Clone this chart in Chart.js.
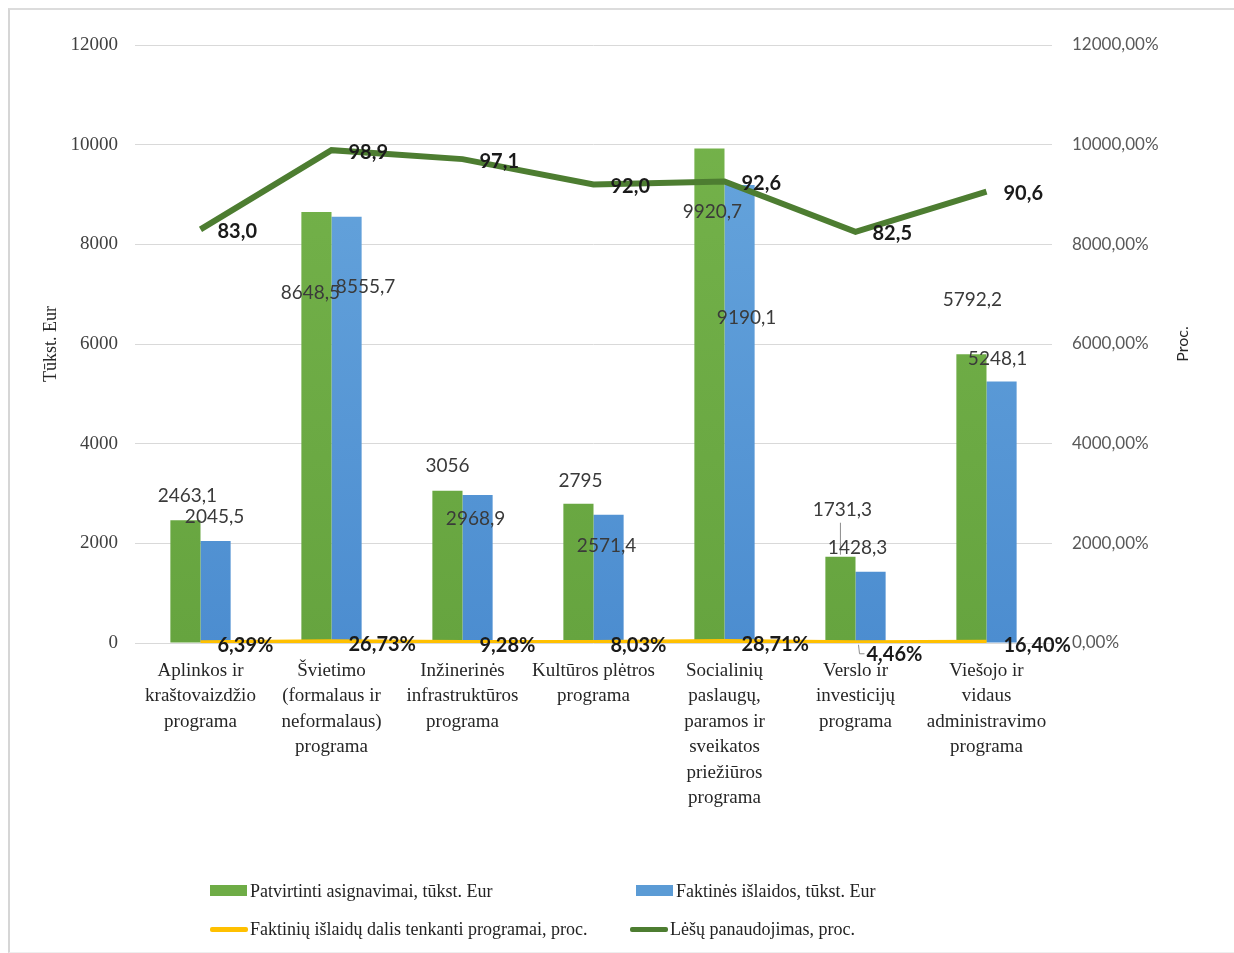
<!DOCTYPE html>
<html>
<head>
<meta charset="utf-8">
<script src="https://cdn.jsdelivr.net/npm/chart.js@4/dist/chart.umd.min.js"></script>
<style>
  html, body { margin: 0; padding: 0; background: #fff; }
  #wrap { position: relative; width: 1234px; height: 953px; overflow: hidden; }
  #frame { position: absolute; left: 8px; top: 8px; width: 1240px; height: 942px;
           border-left: 2px solid #d6d6d6; border-top: 2px solid #dcdcdc; border-bottom: 1px solid #eeeeee; }
  #chart { position: absolute; left: 0; top: 0; }
  .leg { position: absolute; font-family: "Liberation Serif", serif; font-size: 18px; color: #222;
         white-space: nowrap; line-height: 20px; }
  .mark { position: absolute; }
</style>
</head>
<body>
<div id="wrap">
  <div id="frame"></div>
  <canvas id="chart" width="1234" height="953"></canvas>
  <div id="legend"></div>
</div>
<script>
// categories (program names, split in lines as in the original)
const categories = [
  ["Aplinkos ir", "kraštovaizdžio", "programa"],
  ["Švietimo", "(formalaus ir", "neformalaus)", "programa"],
  ["Inžinerinės", "infrastruktūros", "programa"],
  ["Kultūros plėtros", "programa"],
  ["Socialinių", "paslaugų,", "paramos ir", "sveikatos", "priežiūros", "programa"],
  ["Verslo ir", "investicijų", "programa"],
  ["Viešojo ir", "vidaus", "administravimo", "programa"]
]

// thousand Eur
const patvirtinti = [2463.1, 8648.5, 3056, 2795, 9920.7, 1731.3, 5792.2]
const faktines = [2045.5, 8555.7, 2968.9, 2571.4, 9190.1, 1428.3, 5248.1]
// percent
const dalis = [6.39, 26.73, 9.28, 8.03, 28.71, 4.46, 16.40]
const panaudojimas = [83.0, 98.9, 97.1, 92.0, 92.6, 82.5, 90.6]

const leftTicks = [0, 2000, 4000, 6000, 8000, 10000, 12000]

const fmtEur = v => Number.isInteger(v) ? String(v) : v.toFixed(1).replace('.', ',')
const fmtPct2 = v => (v * 100).toFixed(2).replace('.', ',') + '%'
const fmtPct1 = v => v.toFixed(1).replace('.', ',')

function vGrad(top, bottom) {
  return (c) => {
    const area = c.chart.chartArea
    if (!area) return bottom
    const g = c.chart.ctx.createLinearGradient(0, area.top, 0, area.bottom)
    g.addColorStop(0, top)
    g.addColorStop(1, bottom)
    return g
  }
}

// custom data labels (no datalabels plugin available)
const valueLabels = {
  id: 'valueLabels',
  afterDatasetsDraw(chart, args, opts) {
    const ctx = chart.ctx
    opts.sets.forEach((s, di) => {
      const meta = chart.getDatasetMeta(di)
      const data = chart.data.datasets[di].data
      meta.data.forEach((el, i) => {
        const off = s.offsets ? s.offsets[i] : [0, 0]
        const x = el.x + off[0]
        const y = el.y + off[1]
        ctx.save()
        if (s.leader && s.leader[i]) {
          const l = s.leader[i]
          ctx.strokeStyle = '#8c8c8c'
          ctx.lineWidth = 1
          ctx.beginPath()
          ctx.moveTo(el.x + l[0], el.y + l[1])
          ctx.lineTo(el.x + l[2], el.y + l[3])
          if (l.length > 4) ctx.lineTo(el.x + l[4], el.y + l[5])
          ctx.stroke()
        }
        ctx.font = s.font
        ctx.fillStyle = s.color
        ctx.textAlign = s.align
        ctx.textBaseline = 'middle'
        ctx.fillText(s.format(data[i]), x, y)
        ctx.restore()
      })
    })
  },
  // right axis title, read bottom-to-top like the left one
  afterDraw(chart, args, opts) {
    const s = chart.scales.y2
    const ctx = chart.ctx
    ctx.save()
    ctx.translate(s.right - 51, (chart.chartArea.top + chart.chartArea.bottom) / 2)
    ctx.rotate(-Math.PI / 2)
    ctx.font = '16px Lato'
    ctx.fillStyle = '#262626'
    ctx.textAlign = 'center'
    ctx.textBaseline = 'middle'
    ctx.fillText(opts.rightTitle, 0, 0)
    ctx.restore()
  }
}

const ctx = document.getElementById('chart').getContext('2d')

const chart = new Chart(ctx, {
  type: 'bar',
  data: {
    labels: categories,
    datasets: [{
      label: 'Patvirtinti asignavimai, tūkst. Eur',
      data: patvirtinti,
      backgroundColor: vGrad('#76b44c', '#66a43f'),
      legendColor: '#6eac46',
      yAxisID: 'y',
      order: 3,
      categoryPercentage: 0.46,
      barPercentage: 1.0
    }, {
      label: 'Faktinės išlaidos, tūkst. Eur',
      data: faktines,
      backgroundColor: vGrad('#6aa8de', '#4c8dd0'),
      legendColor: '#5b9bd5',
      yAxisID: 'y',
      order: 3,
      categoryPercentage: 0.46,
      barPercentage: 1.0
    }, {
      type: 'line',
      label: 'Faktinių išlaidų dalis tenkanti programai, proc.',
      data: dalis.map(v => v / 100),
      borderColor: '#ffc000',
      legendColor: '#ffc000',
      borderWidth: 5,
      pointRadius: 0,
      tension: 0,
      yAxisID: 'y2',
      order: 1
    }, {
      type: 'line',
      label: 'Lėšų panaudojimas, proc.',
      data: panaudojimas,
      borderColor: '#4d7d31',
      legendColor: '#4d7d31',
      borderWidth: 6,
      pointRadius: 0,
      tension: 0,
      yAxisID: 'y2',
      order: 2
    }]
  },
  options: {
    responsive: false,
    animation: false,
    layout: { padding: { top: 45, left: 0, right: 0, bottom: 0 } },
    scales: {
      x: {
        offset: true,
        grid: { display: false },
        border: { display: false },
        ticks: {
          autoSkip: false,
          maxRotation: 0,
          padding: 7,
          color: '#262626',
          font: { family: 'Liberation Serif', size: 19, lineHeight: 1.34 }
        },
        afterFit: s => { s.height = 310 }
      },
      y: {
        position: 'left',
        min: 0, max: 12000,
        afterBuildTicks: s => { s.ticks = leftTicks.map(v => ({ value: v })) },
        grid: { color: '#d9d9d9', lineWidth: 1, drawTicks: false },
        border: { display: false },
        ticks: {
          padding: 17,
          color: '#404040',
          font: { family: 'Liberation Serif', size: 19 },
          callback: v => String(v)
        },
        title: {
          display: true,
          text: 'Tūkst. Eur',
          color: '#262626',
          font: { family: 'Liberation Serif', size: 18 },
          padding: { top: 40, bottom: 0 }
        },
        afterFit: s => { s.width = 135 }
      },
      y2: {
        position: 'right',
        min: 0, max: 120,
        ticks: {
          stepSize: 20,
          padding: 20,
          color: '#595959',
          font: { family: 'Lato', size: 17 },
          callback: v => fmtPct2(v)
        },
        grid: { drawOnChartArea: false, drawTicks: false },
        border: { display: false },
        afterFit: s => { s.width = 182 }
      }
    },
    plugins: {
      legend: { display: false },
      tooltip: { enabled: false },
      valueLabels: {
        rightTitle: 'Proc.',
        sets: [{
          font: '19px Lato', color: '#3a3a3a', align: 'center', format: fmtEur,
          offsets: [[2, -24], [-6, 81], [0, -25], [2, -23], [3, 63], [2, -47], [1, -54]],
          leader: [null, null, null, null, null, [0, -34, 0, -2], null]
        }, {
          font: '19px Lato', color: '#3a3a3a', align: 'center', format: fmtEur,
          offsets: [[-1, -24], [19, 70], [-2, 24], [-2, 31], [7, 133], [-13, -24], [-4, -23]]
        }, {
          font: 'bold 20px Lato', color: '#1a1a1a', align: 'left', format: fmtPct2,
          offsets: [[17, 3], [17, 3], [17, 3], [17, 3], [17, 3], [11, 12], [17, 3]],
          leader: [null, null, null, null, null, [3, 2, 4, 11, 9, 11], null]
        }, {
          font: 'bold 20px Lato', color: '#1a1a1a', align: 'left', format: fmtPct1,
          offsets: [[17, 2], [17, 2], [17, 2], [17, 2], [17, 2], [17, 2], [17, 2]]
        }]
      }
    }
  },
  plugins: [valueLabels]
})

// legend built from the datasets, laid out like the original (two rows)
const legendPos = [[210, 891, 'box'], [636, 891, 'box'], [210, 929, 'line'], [630, 929, 'line']]
const legend = document.getElementById('legend')
chart.data.datasets.forEach((ds, i) => {
  const [x, y, kind] = legendPos[i]
  const m = document.createElement('div')
  m.className = 'mark'
  m.style.background = ds.legendColor
  if (kind === 'box') {
    m.style.left = x + 'px'; m.style.top = (y - 6) + 'px'; m.style.width = '37px'; m.style.height = '11px'
  } else {
    m.style.left = x + 'px'; m.style.top = (y - 2) + 'px'; m.style.width = '38px'; m.style.height = '5px'
    m.style.borderRadius = '2px'
  }
  legend.appendChild(m)
  const t = document.createElement('div')
  t.className = 'leg'
  t.textContent = ds.label
  t.style.left = (x + 40) + 'px'
  t.style.top = (y - 10) + 'px'
  legend.appendChild(t)
})
</script>
</body>
</html>
